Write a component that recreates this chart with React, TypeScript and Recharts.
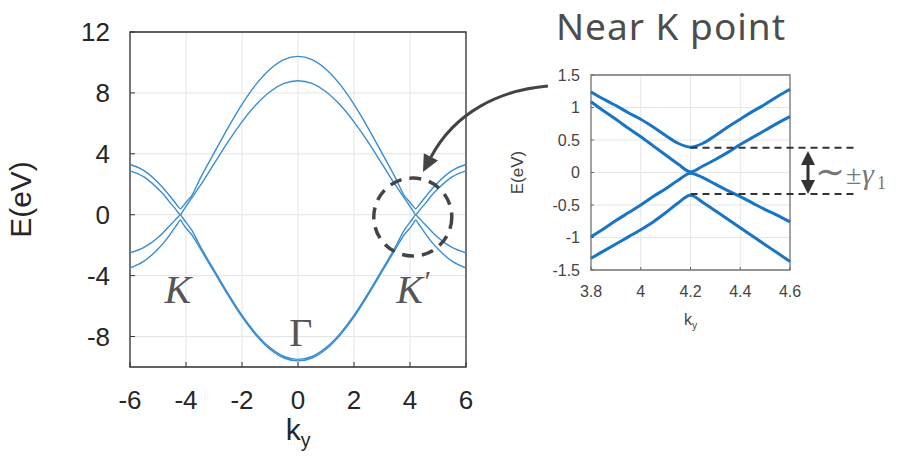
import { LineChart, Line, XAxis, YAxis, CartesianGrid, ReferenceArea, ReferenceDot, ReferenceLine } from "recharts";

// ---- main panel: bands along ky ----
const kyMain = [
  -6, -5.5, -5, -4.8, -4.6, -4.4, -4.3, -4.2, -4.1, -4, -3.8, -3.5, -3, -2.5, -2, -1.5, -1, -0.5,
  0,
  0.5, 1, 1.5, 2, 2.5, 3, 3.5, 3.8, 4, 4.1, 4.2, 4.3, 4.4, 4.6, 4.8, 5, 5.5, 6,
];
const band1 = [
  3.3, 2.9, 2.12, 1.72, 1.28, 0.82, 0.58, 0.39, 0.58, 0.82, 1.24, 2.35, 4.04, 5.71, 7.25, 8.56, 9.56, 10.19,
  10.4,
  10.19, 9.56, 8.56, 7.25, 5.71, 4.04, 2.35, 1.24, 0.82, 0.58, 0.39, 0.58, 0.82, 1.28, 1.72, 2.12, 2.9, 3.3,
];
const band2 = [
  2.88, 2.48, 1.7, 1.33, 0.86, 0.43, 0.2, 0.01, 0.27, 0.55, 1.09, 1.89, 3.34, 4.78, 6.1, 7.22, 8.08, 8.62,
  8.8,
  8.62, 8.08, 7.22, 6.1, 4.78, 3.34, 1.89, 1.09, 0.55, 0.27, 0.01, 0.2, 0.43, 0.86, 1.33, 1.7, 2.48, 2.88,
];
const band3 = [
  -2.5, -2.15, -1.5, -1.15, -0.76, -0.37, -0.18, -0.01, -0.25, -0.5, -0.99, -2.04, -3.62, -5.17, -6.6, -7.81, -8.73, -9.31,
  -9.5,
  -9.31, -8.73, -7.81, -6.6, -5.17, -3.62, -2.04, -0.99, -0.5, -0.25, -0.01, -0.18, -0.37, -0.76, -1.15, -1.5, -2.15, -2.5,
];
const band4 = [
  -3.5, -3.05, -2.25, -1.85, -1.37, -0.85, -0.59, -0.35, -0.62, -0.88, -1.3, -2.2, -3.74, -5.28, -6.71, -7.91, -8.83, -9.41,
  -9.6,
  -9.41, -8.83, -7.91, -6.71, -5.28, -3.74, -2.2, -1.3, -0.88, -0.62, -0.35, -0.59, -0.85, -1.37, -1.85, -2.25, -3.05, -3.5,
];
const kyTicksMain = [-6, -4, -2, 0, 2, 4, 6];
const eTicksMain = [-8, -4, 0, 4, 8, 12];

// ---- inset: near K point ----
const kyInset = [3.8, 3.85, 3.9, 3.95, 4, 4.05, 4.1, 4.15, 4.2, 4.25, 4.3, 4.35, 4.4, 4.45, 4.5, 4.55, 4.6];
const outerUp = [1.24, 1.13, 1.03, 0.92, 0.82, 0.7, 0.57, 0.45, 0.39, 0.45, 0.57, 0.7, 0.82, 0.94, 1.05, 1.17, 1.28];
const innerUp = [1.09, 0.95, 0.82, 0.68, 0.55, 0.41, 0.27, 0.13, 0.01, 0.1, 0.2, 0.31, 0.43, 0.54, 0.65, 0.76, 0.86];
const innerLow = [-0.99, -0.87, -0.74, -0.62, -0.5, -0.37, -0.25, -0.12, -0.01, -0.08, -0.18, -0.28, -0.37, -0.47, -0.57, -0.66, -0.76];
const outerLow = [-1.32, -1.21, -1.1, -0.99, -0.88, -0.76, -0.62, -0.47, -0.35, -0.46, -0.59, -0.72, -0.85, -0.98, -1.11, -1.24, -1.37];
const kyTicksInset = [3.8, 4, 4.2, 4.4, 4.6];
const eTicksInset = [-1.5, -1, -0.5, 0, 0.5, 1, 1.5];
const kPoint = 4.2;
const gapTop = 0.38;
const gapBottom = -0.33;

const mainData = kyMain.map((ky, i) => ({ ky, b1: band1[i], b2: band2[i], b3: band3[i], b4: band4[i] }));
const insetData = kyInset.map((ky, i) => ({ ky, o1: outerUp[i], i1: innerUp[i], i2: innerLow[i], o2: outerLow[i] }));

const SANS = "'Liberation Sans', Arial, sans-serif";
const SERIF = "'Liberation Serif', 'DejaVu Serif', serif";

const kyLabel = (dy: number, size: number, fill: string) => (p: any) => {
  const vb = p.viewBox;
  return (
    <text x={vb.x + vb.width / 2} y={vb.y + dy} textAnchor="middle" fontSize={size} fill={fill} fontFamily={SANS}>
      <tspan>k</tspan>
      <tspan fontSize={size * 0.65} dy={size * 0.22}>y</tspan>
    </text>
  );
};

const eLabel = (cx: number, size: number, fill: string) => (p: any) => {
  const vb = p.viewBox;
  const cy = vb.y + vb.height / 2;
  return (
    <text x={cx} y={cy} transform={`rotate(-90, ${cx}, ${cy})`} textAnchor="middle" dominantBaseline="central" fontSize={size} fill={fill} fontFamily={SANS}>
      E(eV)
    </text>
  );
};

const pointLabel = (txt: string, prime: boolean, italic: boolean) => (p: any) => (
  <text x={p.cx} y={p.cy} textAnchor="middle" dominantBaseline="central" fontSize={40} fill="#555" fontFamily={SERIF} fontStyle={italic ? "italic" : "normal"}>
    {txt}
    {prime && <tspan fontSize={30} dy={-10}>′</tspan>}
  </text>
);

const mainBlue = "#3a8dd0";
const insetBlue = "#1874c4";

export default function App() {
  return (
    <div style={{ position: "absolute", left: 0, top: 0, width: 902, height: 469, background: "#fff" }}>
      <div style={{ position: "absolute", left: 0, top: 0 }}>
        <LineChart width={480} height={469} data={mainData} margin={{ top: 32, right: 14, bottom: 0, left: 0 }}>
          <CartesianGrid stroke="#e4e4e4" />
          <XAxis
            type="number"
            dataKey="ky"
            domain={[-6, 6]}
            ticks={kyTicksMain}
            height={102}
            tickSize={-5}
            tickMargin={29}
            axisLine={false}
            tickLine={{ stroke: "#333" }}
            tick={{ fontSize: 26, fill: "#262626", fontFamily: SANS }}
            label={kyLabel(73, 30, "#262626")}
          />
          <XAxis xAxisId="top" orientation="top" type="number" dataKey="ky" domain={[-6, 6]} ticks={kyTicksMain} height={0} tickSize={-5} axisLine={false} tickLine={{ stroke: "#333" }} tick={false} />
          <YAxis
            type="number"
            domain={[-10, 12]}
            ticks={eTicksMain}
            width={130}
            tickSize={-5}
            tickMargin={25}
            axisLine={false}
            tickLine={{ stroke: "#333" }}
            tick={{ fontSize: 26, fill: "#262626", fontFamily: SANS }}
            label={eLabel(20, 30, "#262626")}
          />
          <YAxis yAxisId="right" orientation="right" type="number" domain={[-10, 12]} ticks={eTicksMain} width={0} tickSize={-5} axisLine={false} tickLine={{ stroke: "#333" }} tick={false} />
          <ReferenceArea x1={-6} x2={6} y1={-10} y2={12} fill="none" stroke="#333" strokeWidth={1.3} ifOverflow="visible" />
          <Line type="monotone" dataKey="b1" stroke={mainBlue} strokeWidth={1.4} dot={false} isAnimationActive={false} />
          <Line type="monotone" dataKey="b2" stroke={mainBlue} strokeWidth={1.4} dot={false} isAnimationActive={false} />
          <Line type="monotone" dataKey="b3" stroke={mainBlue} strokeWidth={1.4} dot={false} isAnimationActive={false} />
          <Line type="monotone" dataKey="b4" stroke={mainBlue} strokeWidth={1.4} dot={false} isAnimationActive={false} />
          <ReferenceDot x={4.1} y={-0.15} r={39} fill="none" stroke="#444" strokeWidth={3.5} strokeDasharray="12 8" />
          <ReferenceDot x={-4.29} y={-4.92} r={1} shape={pointLabel("K", false, true)} />
          <ReferenceDot x={4.1} y={-4.92} r={1} shape={pointLabel("K", true, true)} />
          <ReferenceDot x={0.1} y={-7.75} r={1} shape={pointLabel("Γ", false, false)} />
        </LineChart>
      </div>
      <div style={{ position: "absolute", left: 480, top: 0 }}>
        <LineChart width={422} height={340} data={insetData} margin={{ top: 75, right: 112, bottom: 0, left: 0 }}>
          <CartesianGrid stroke="#e6e6e6" />
          <XAxis
            type="number"
            dataKey="ky"
            domain={[3.8, 4.6]}
            ticks={kyTicksInset}
            height={70}
            tickSize={-3}
            tickMargin={19}
            axisLine={false}
            tickLine={{ stroke: "#666" }}
            tick={{ fontSize: 16, fill: "#444", fontFamily: SANS }}
            label={kyLabel(55, 16, "#444")}
          />
          <XAxis xAxisId="top" orientation="top" type="number" dataKey="ky" domain={[3.8, 4.6]} ticks={kyTicksInset} height={0} tickSize={-3} axisLine={false} tickLine={{ stroke: "#666" }} tick={false} />
          <YAxis
            type="number"
            domain={[-1.5, 1.5]}
            ticks={eTicksInset}
            width={111}
            tickSize={-3}
            tickMargin={14}
            axisLine={false}
            tickLine={{ stroke: "#666" }}
            tick={{ fontSize: 16, fill: "#444", fontFamily: SANS }}
            label={eLabel(37, 17, "#444")}
          />
          <YAxis yAxisId="right" orientation="right" type="number" domain={[-1.5, 1.5]} ticks={eTicksInset} width={0} tickSize={-3} axisLine={false} tickLine={{ stroke: "#666" }} tick={false} />
          <ReferenceArea x1={3.8} x2={4.6} y1={-1.5} y2={1.5} fill="none" stroke="#777" strokeWidth={1.3} ifOverflow="visible" />
          <Line type="monotone" dataKey="o1" stroke={insetBlue} strokeWidth={3} dot={false} isAnimationActive={false} />
          <Line type="monotone" dataKey="i1" stroke={insetBlue} strokeWidth={3} dot={false} isAnimationActive={false} />
          <Line type="monotone" dataKey="i2" stroke={insetBlue} strokeWidth={3} dot={false} isAnimationActive={false} />
          <Line type="monotone" dataKey="o2" stroke={insetBlue} strokeWidth={3} dot={false} isAnimationActive={false} />
          <ReferenceLine segment={[{ x: kPoint, y: gapTop }, { x: 4.873, y: gapTop }]} stroke="#333" strokeWidth={2} strokeDasharray="7 5" ifOverflow="visible" />
          <ReferenceLine segment={[{ x: kPoint, y: gapBottom }, { x: 4.873, y: gapBottom }]} stroke="#333" strokeWidth={2} strokeDasharray="7 5" ifOverflow="visible" />
        </LineChart>
      </div>
      <svg width={902} height={469} style={{ position: "absolute", left: 0, top: 0, pointerEvents: "none" }}>
        <text x={671} y={40} textAnchor="middle" fontSize={37} letterSpacing={1} fill="#4d4d4d" fontFamily="'Noto Sans', sans-serif">
          Near K point
        </text>
        <path d="M548 86 C500 90 455 112 431 157" fill="none" stroke="#444" strokeWidth={3} />
        <polygon points="423,172 438,160.6 423.8,153.2" fill="#444" />
        <line x1={808} y1={160} x2={808} y2={185} stroke="#333" strokeWidth={3} />
        <polygon points="808,151 801,165 815,165" fill="#333" />
        <polygon points="808,194 801,180 815,180" fill="#333" />
        <text y={184} fill="#777" fontFamily={SERIF}>
          <tspan x={815} fontSize={36}>∼</tspan>
          <tspan x={846} fontSize={28}>±</tspan>
          <tspan x={862} fontSize={30} fontStyle="italic">γ</tspan>
          <tspan x={877} fontSize={18} dy={5}>1</tspan>
        </text>
      </svg>
    </div>
  );
}
